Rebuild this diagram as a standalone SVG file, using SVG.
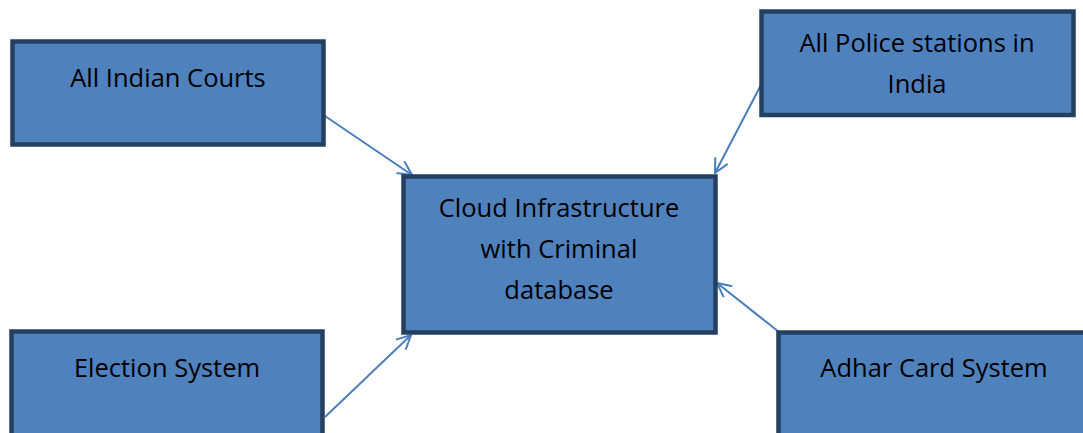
<svg xmlns="http://www.w3.org/2000/svg" width="1083" height="433" viewBox="0 0 1083 433">
<defs>
<style>
.box{fill:#4f81bd;stroke:#243f60;stroke-width:4.5}
.t{font-family:"Open Sans","Liberation Sans",Arial,sans-serif;font-size:25.5px;fill:#000;text-anchor:middle}
.c{stroke:#4a7ebb;stroke-width:2;fill:none;marker-end:url(#ah)}
</style>
<marker id="ah" viewBox="0 0 18 18" refX="17" refY="9" markerWidth="18" markerHeight="18" markerUnits="userSpaceOnUse" orient="auto">
<path d="M3,2 L17,9 L3,16" fill="none" stroke="#4a7ebb" stroke-width="2"/>
</marker>
</defs>
<rect width="1083" height="433" fill="#fff"/>
<g id="connectors">
<line class="c" x1="322" y1="114" x2="412" y2="175"/>
<line class="c" x1="762" y1="83" x2="715" y2="173"/>
<line class="c" x1="325" y1="417" x2="411" y2="335"/>
<line class="c" x1="779" y1="332" x2="717" y2="283"/>
</g>
<g id="courts">
<rect class="box" x="12.5" y="41.5" width="311" height="103"/>
<text class="t" x="168" y="87">All Indian Courts</text>
</g>
<g id="police">
<rect class="box" x="761.5" y="11.5" width="312" height="103.5"/>
<text class="t" x="917" y="52">All Police stations in</text>
<text class="t" x="917" y="93">India</text>
</g>
<g id="cloud">
<rect class="box" x="403.5" y="176.5" width="312" height="156"/>
<text class="t" x="559" y="217">Cloud Infrastructure</text>
<text class="t" x="559" y="258">with Criminal</text>
<text class="t" x="559" y="299">database</text>
</g>
<g id="election">
<rect class="box" x="11.5" y="331.5" width="311" height="110"/>
<text class="t" x="167" y="377">Election System</text>
</g>
<g id="adhar">
<rect class="box" x="778.5" y="332.5" width="320" height="110"/>
<text class="t" x="934" y="377">Adhar Card System</text>
</g>
</svg>
